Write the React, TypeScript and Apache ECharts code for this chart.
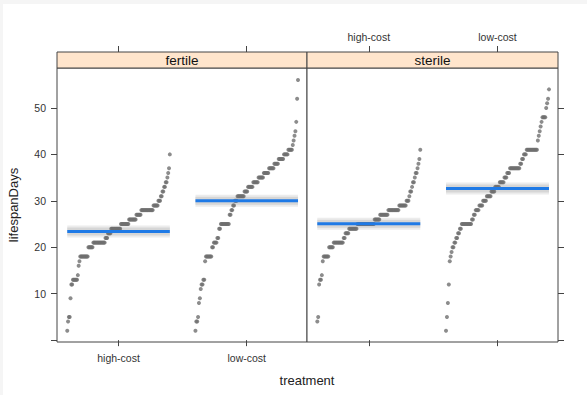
import React, { useEffect, useRef } from "react";
import * as echarts from "echarts";

// Treatment levels along x and the two panels
const treatments = ["high-cost", "low-cost"];
const panelNames = ["fertile", "sterile"];

// Lifespan in days and how many flies reached each value
const fertileHighDays = [2, 4, 5, 9, 12, 13, 14, 16, 17, 18, 20, 21, 22, 23, 24, 25, 26, 27, 28, 29, 30, 31, 32, 33, 34, 35, 36, 37, 40];
const fertileHighCounts = [1, 1, 2, 1, 2, 6, 1, 1, 1, 10, 6, 15, 3, 4, 12, 10, 9, 6, 15, 6, 3, 2, 2, 2, 2, 1, 1, 1, 1];

const fertileLowDays = [2, 4, 5, 8, 9, 11, 12, 13, 17, 18, 20, 21, 22, 24, 25, 27, 28, 29, 30, 31, 32, 33, 34, 35, 36, 37, 38, 39, 40, 41, 42, 43, 44, 45, 47, 52, 56];
const fertileLowCounts = [1, 2, 1, 1, 1, 1, 2, 2, 1, 7, 2, 4, 2, 2, 10, 2, 2, 2, 3, 8, 4, 6, 6, 6, 6, 6, 5, 6, 5, 5, 1, 1, 1, 1, 1, 1, 1];

const sterileHighDays = [4, 5, 12, 13, 14, 17, 18, 20, 21, 22, 23, 24, 25, 26, 27, 28, 29, 30, 31, 32, 33, 34, 35, 36, 37, 38, 39, 41];
const sterileHighCounts = [1, 1, 1, 2, 1, 1, 6, 5, 11, 2, 4, 9, 19, 6, 9, 12, 8, 3, 1, 2, 1, 2, 1, 2, 1, 1, 1, 1];

const sterileLowDays = [2, 5, 8, 12, 17, 18, 19, 20, 21, 22, 23, 24, 25, 26, 27, 28, 29, 30, 31, 32, 33, 34, 35, 36, 37, 38, 39, 40, 41, 43, 44, 45, 46, 47, 48, 50, 51, 52, 54];
const sterileLowCounts = [1, 1, 1, 1, 1, 1, 1, 2, 2, 2, 2, 2, 11, 2, 2, 4, 4, 4, 5, 4, 5, 5, 3, 3, 11, 2, 2, 3, 12, 1, 1, 1, 1, 1, 4, 1, 1, 1, 1];

// y axis ticks and labels
const yTicks = [0, 10, 20, 30, 40, 50];
const yLabels = [10, 20, 30, 40, 50];

const groups = [
  { panel: 0, cat: 0, days: fertileHighDays, counts: fertileHighCounts },
  { panel: 0, cat: 1, days: fertileLowDays, counts: fertileLowCounts },
  { panel: 1, cat: 0, days: sterileHighDays, counts: sterileHighCounts },
  { panel: 1, cat: 1, days: sterileLowDays, counts: sterileLowCounts },
];

const FONT = "Liberation Sans, Arial, sans-serif";
const HALF = 0.4; // half width of each strip of points, in category units

function expand(days: number[], counts: number[]): number[] {
  const out: number[] = [];
  days.forEach((d, k) => {
    for (let j = 0; j < counts[k]; j++) out.push(d);
  });
  return out;
}

function buildOption() {
  const series: any[] = [];
  const stats = groups.map((g) => {
    const vals = expand(g.days, g.counts);
    const n = vals.length;
    const mean = vals.reduce((a, b) => a + b, 0) / n;
    const center = g.cat + 1;
    const pts = vals.map((v, i) => [center - HALF + (2 * HALF * i) / (n - 1), v]);
    return { g, mean, center, pts };
  });

  const meanSegment = (s: any) => [
    [s.center - HALF, s.mean],
    [s.center + HALF, s.mean],
  ];

  const meanLine = (s: any, color: string, width: number, z: number) => ({
    type: "line",
    z,
    xAxisIndex: s.g.panel * 2,
    yAxisIndex: s.g.panel,
    symbol: "none",
    silent: true,
    lineStyle: { color, width, cap: "butt" },
    data: meanSegment(s),
  });

  // soft grey halo behind each mean line (outer pale edge, then core)
  stats.forEach((s) => series.push(meanLine(s, "#ececec", 12, 1)));
  stats.forEach((s) => series.push(meanLine(s, "#d6d6d6", 8, 1)));

  // sorted lifespans per group
  stats.forEach((s) => {
    series.push({
      type: "scatter",
      z: 2,
      xAxisIndex: s.g.panel * 2,
      yAxisIndex: s.g.panel,
      symbol: "circle",
      symbolSize: 4,
      itemStyle: { color: "#6f6f6f" },
      silent: true,
      data: s.pts,
    });
  });

  // group means
  stats.forEach((s) => series.push(meanLine(s, "#1f7ae6", 3, 3)));

  const catFormatter = (v: number) => treatments[Math.round(v) - 1] ?? "";
  const xBase = (gridIndex: number, position: string, showLabels: boolean) => ({
    type: "value",
    gridIndex,
    position,
    offset: position === "top" ? 16 : 0,
    min: 0.52,
    max: 2.47,
    splitLine: { show: false },
    axisLine: { show: false },
    axisTick: { show: true, customValues: [1, 2], length: 6, lineStyle: { color: "#444" } },
    axisLabel: {
      show: showLabels,
      customValues: [1, 2],
      formatter: catFormatter,
      margin: 10,
      fontSize: 10.5,
      color: "#333",
      fontFamily: FONT,
    },
  });

  const yBase = (gridIndex: number, position: string, showLabels: boolean) => ({
    type: "value",
    gridIndex,
    position,
    min: -0.4,
    max: 58.6,
    splitLine: { show: false },
    axisLine: { show: false },
    axisTick: { show: true, customValues: yTicks, length: 6, lineStyle: { color: "#444" } },
    axisLabel: {
      show: showLabels,
      customValues: yLabels,
      margin: 11,
      fontSize: 10.5,
      color: "#333",
      fontFamily: FONT,
    },
  });

  const panelLeft = [57, 307];
  const panelWidth = [250, 251];

  return {
    animation: false,
    backgroundColor: "#f5f5f5",
    grid: panelLeft.map((l, i) => ({
      left: l,
      top: 68,
      width: panelWidth[i],
      height: 274,
      show: true,
      backgroundColor: "#ffffff",
      borderColor: "#444",
      borderWidth: 1,
    })),
    xAxis: [
      xBase(0, "bottom", true),
      xBase(0, "top", false),
      xBase(1, "bottom", false),
      xBase(1, "top", true),
    ],
    yAxis: [
      {
        ...yBase(0, "left", true),
        name: "lifespanDays",
        nameLocation: "middle",
        nameGap: 37,
        nameRotate: 90,
        nameTextStyle: { fontSize: 13, color: "#222", fontFamily: FONT },
      },
      yBase(1, "right", false),
    ],
    graphic: [
      {
        type: "rect",
        z: -10,
        shape: { x: 3, y: 4, width: 584, height: 391 },
        style: { fill: "#ffffff" },
        silent: true,
      },
      ...panelNames.map((name, i) => ({
        type: "group",
        children: [
          {
            type: "rect",
            shape: { x: panelLeft[i], y: 52, width: panelWidth[i], height: 16 },
            style: { fill: "#ffe5cc", stroke: "#444", lineWidth: 1 },
          },
          {
            type: "text",
            x: panelLeft[i] + panelWidth[i] / 2,
            y: 60,
            style: {
              text: name,
              fill: "#111",
              font: `13.5px ${FONT}`,
              textAlign: "center",
              textVerticalAlign: "middle",
            },
          },
        ],
      })),
      {
        type: "text",
        x: 307,
        y: 380,
        style: {
          text: "treatment",
          fill: "#222",
          font: `13px ${FONT}`,
          textAlign: "center",
          textVerticalAlign: "middle",
        },
      },
    ],
    series,
  };
}

export default function App() {
  const ref = useRef<HTMLDivElement>(null);
  useEffect(() => {
    if (!ref.current) return;
    const chart = echarts.init(ref.current, null, { renderer: "svg" });
    chart.setOption(buildOption() as any);
    return () => chart.dispose();
  }, []);
  return (
    <div
      ref={ref}
      style={{ position: "absolute", left: 0, top: 0, width: 587, height: 395 }}
    />
  );
}
